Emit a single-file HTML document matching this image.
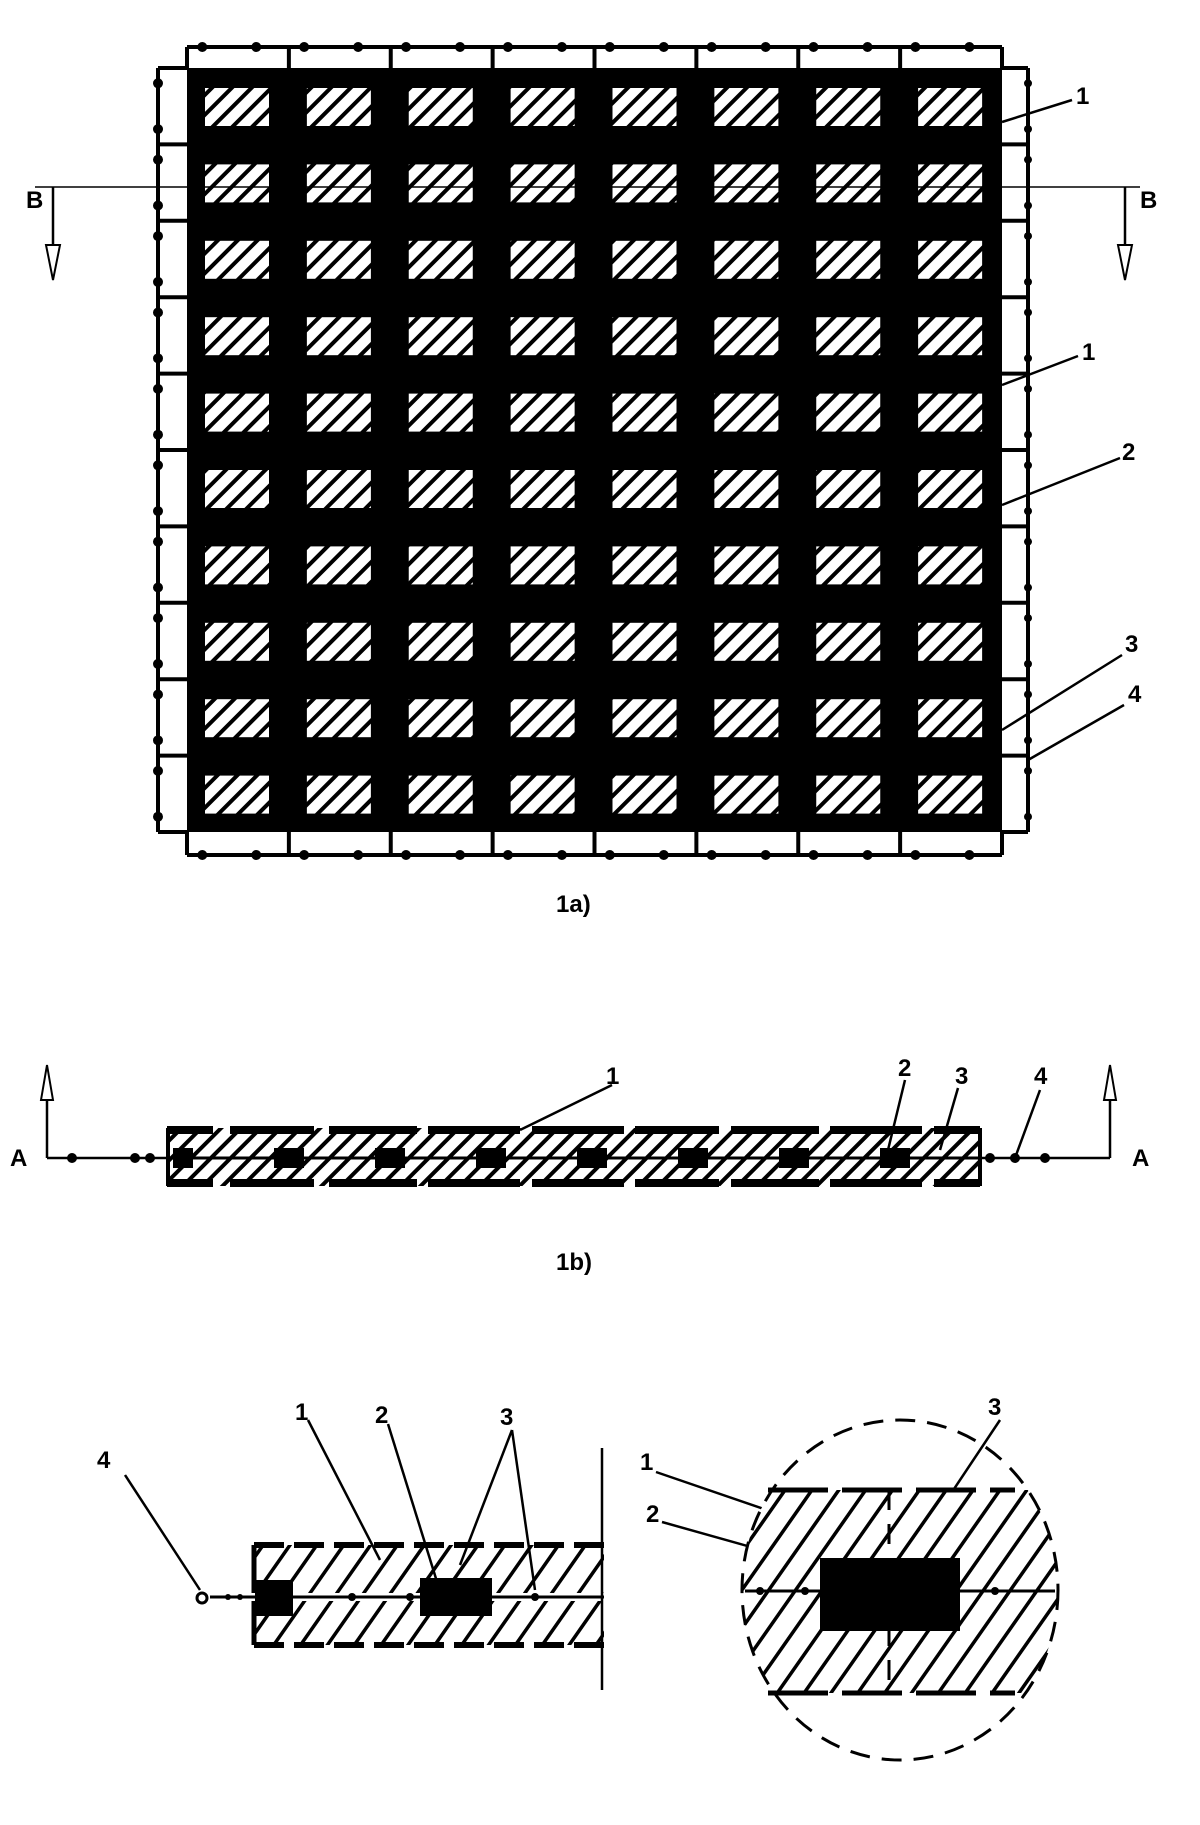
<!DOCTYPE html>
<html><head><meta charset="utf-8"><style>html,body{margin:0;padding:0;background:#fff;}svg{display:block}text{font-family:"Liberation Sans",sans-serif;font-weight:bold;fill:#000}</style></head>
<body>
<svg id="s" width="1200" height="1825" viewBox="0 0 1200 1825" xmlns="http://www.w3.org/2000/svg">
<defs>
<pattern id="h" width="14" height="14" patternUnits="userSpaceOnUse" patternTransform="rotate(45)">
<rect width="14" height="14" fill="#fff"/><rect x="0" y="0" width="4" height="14" fill="#000"/></pattern>
<pattern id="h2" width="22" height="22" patternUnits="userSpaceOnUse" patternTransform="rotate(35)">
<rect width="22" height="22" fill="#fff"/><rect x="0" y="0" width="3.5" height="22" fill="#000"/></pattern>
<clipPath id="cc"><ellipse cx="900" cy="1590" rx="158" ry="170"/></clipPath>
</defs>
<g id="g"></g>
<g stroke="#000" stroke-width="2.5" fill="none">
<line x1="1002" y1="122" x2="1072" y2="100"/>
<line x1="1002" y1="385" x2="1078" y2="356"/>
<line x1="1002" y1="505" x2="1120" y2="458"/>
<line x1="1002" y1="730" x2="1122" y2="655"/>
<line x1="1028" y1="760" x2="1124" y2="705"/>
<line x1="35" y1="187" x2="1140" y2="187" stroke-width="1.5"/>
<line x1="53" y1="187" x2="53" y2="275"/><line x1="1125" y1="187" x2="1125" y2="275"/>
</g>
<path d="M46 245 L53 280 L60 245 Z M1118 245 L1125 280 L1132 245 Z" fill="#fff" stroke="#000" stroke-width="2"/>
<text x="1076" y="104" font-size="24">1</text>
<text x="1082" y="360" font-size="24">1</text>
<text x="1122" y="460" font-size="24">2</text>
<text x="1125" y="652" font-size="24">3</text>
<text x="1128" y="702" font-size="24">4</text>
<text x="26" y="208" font-size="24">B</text>
<text x="1140" y="208" font-size="24">B</text>
<text x="556" y="912" font-size="24">1a)</text>
<g stroke="#000" stroke-width="2.5" fill="none">
<line x1="47" y1="1158" x2="1110" y2="1158"/>
<line x1="47" y1="1070" x2="47" y2="1158"/><line x1="1110" y1="1070" x2="1110" y2="1158"/>
<line x1="520" y1="1130" x2="612" y2="1085"/>
<line x1="888" y1="1150" x2="905" y2="1080"/>
<line x1="940" y1="1150" x2="958" y2="1088"/>
<line x1="1015" y1="1158" x2="1040" y2="1090"/>
</g>
<path d="M41 1100 L47 1065 L53 1100 Z M1104 1100 L1110 1065 L1116 1100 Z" fill="#fff" stroke="#000" stroke-width="2"/>
<text x="10" y="1166" font-size="24">A</text>
<text x="1132" y="1166" font-size="24">A</text>
<text x="606" y="1084" font-size="24">1</text>
<text x="898" y="1076" font-size="24">2</text>
<text x="955" y="1084" font-size="24">3</text>
<text x="1034" y="1084" font-size="24">4</text>
<text x="556" y="1270" font-size="24">1b)</text>
<rect x="254" y="1545" width="350" height="100" fill="url(#h2)"/>
<g stroke="#000" stroke-width="6" fill="none" stroke-dasharray="30,10">
<line x1="254" y1="1545" x2="604" y2="1545"/><line x1="254" y1="1645" x2="604" y2="1645"/>
</g>
<line x1="254" y1="1545" x2="254" y2="1645" stroke="#000" stroke-width="5"/>
<line x1="210" y1="1597" x2="604" y2="1597" stroke="#fff" stroke-width="8"/>
<line x1="210" y1="1597" x2="604" y2="1597" stroke="#000" stroke-width="3"/>
<rect x="255" y="1580" width="38" height="36" fill="#000"/>
<rect x="420" y="1578" width="72" height="38" fill="#000"/>
<g fill="#000"><circle cx="352" cy="1597" r="4"/><circle cx="410" cy="1597" r="4"/><circle cx="535" cy="1597" r="4"/><circle cx="228" cy="1597" r="3"/><circle cx="240" cy="1597" r="3"/></g>
<circle cx="202" cy="1598" r="5" fill="#fff" stroke="#000" stroke-width="3"/>
<line x1="602" y1="1448" x2="602" y2="1690" stroke="#000" stroke-width="2.5"/>
<g stroke="#000" stroke-width="2.5" fill="none">
<line x1="125" y1="1475" x2="200" y2="1590"/>
<line x1="308" y1="1420" x2="380" y2="1560"/>
<line x1="388" y1="1424" x2="438" y2="1585"/>
<line x1="512" y1="1430" x2="460" y2="1565"/><line x1="512" y1="1430" x2="535" y2="1590"/>
<line x1="656" y1="1472" x2="840" y2="1535"/>
<line x1="662" y1="1522" x2="815" y2="1565"/>
<line x1="1000" y1="1420" x2="900" y2="1570"/>
</g>
<text x="97" y="1468" font-size="24">4</text>
<text x="295" y="1420" font-size="24">1</text>
<text x="375" y="1423" font-size="24">2</text>
<text x="500" y="1425" font-size="24">3</text>
<text x="640" y="1470" font-size="24">1</text>
<text x="646" y="1522" font-size="24">2</text>
<text x="988" y="1415" font-size="24">3</text>
<rect x="735" y="1490" width="330" height="203" fill="url(#h2)" clip-path="url(#cc)"/>
<ellipse cx="900" cy="1590" rx="158" ry="170" fill="none" stroke="#000" stroke-width="3" stroke-dasharray="20,12"/>
<g stroke="#000" stroke-width="5" stroke-dasharray="60,14">
<line x1="768" y1="1490" x2="1015" y2="1490"/><line x1="768" y1="1693" x2="1015" y2="1693"/></g>
<line x1="889" y1="1490" x2="889" y2="1693" stroke="#000" stroke-width="3" stroke-dasharray="20,14"/>
<line x1="745" y1="1591" x2="1055" y2="1591" stroke="#000" stroke-width="3"/>
<rect x="820" y="1558" width="140" height="73" fill="#000"/>
<g fill="#000"><circle cx="760" cy="1591" r="4"/><circle cx="805" cy="1591" r="4"/><circle cx="995" cy="1591" r="4"/></g>
</svg>
<script>
var g=document.getElementById('g'),o='';
var X0=187,X1=1002,Y0=68,Y1=832,cw=(X1-X0)/8,rh=(Y1-Y0)/10;
o+='<rect x="'+X0+'" y="'+Y0+'" width="'+(X1-X0)+'" height="'+(Y1-Y0)+'" fill="#000"/>';
for(var r=0;r<10;r++)for(var c=0;c<8;c++){o+='<rect x="'+(X0+18+c*cw)+'" y="'+(Y0+20+r*rh)+'" width="64" height="38" fill="url(#h)"/>';}
o+='<g stroke="#000" stroke-width="4">';
o+='<line x1="'+X0+'" y1="47" x2="'+X1+'" y2="47"/><line x1="'+X0+'" y1="855" x2="'+X1+'" y2="855"/>';
o+='<line x1="158" y1="'+Y0+'" x2="158" y2="'+Y1+'"/><line x1="1028" y1="'+Y0+'" x2="1028" y2="'+Y1+'"/>';
for(var c=0;c<=8;c++){var x=X0+c*cw;o+='<line x1="'+x+'" y1="47" x2="'+x+'" y2="68"/><line x1="'+x+'" y1="832" x2="'+x+'" y2="855"/>';}
for(var r=0;r<=10;r++){var y=Y0+r*rh;o+='<line x1="158" y1="'+y+'" x2="'+X0+'" y2="'+y+'"/><line x1="'+X1+'" y1="'+y+'" x2="1028" y2="'+y+'"/>';}
o+='</g>';
for(var c=0;c<8;c++){[0.15,0.68].forEach(function(f){var x=X0+c*cw+f*cw;o+='<circle cx="'+x+'" cy="47" r="5"/><circle cx="'+x+'" cy="855" r="5"/>';});}
for(var r=0;r<10;r++){[0.2,0.8].forEach(function(f){var y=Y0+r*rh+f*rh;o+='<circle cx="158" cy="'+y+'" r="5"/><circle cx="1028" cy="'+y+'" r="4"/>';});}
var segs=[[167,213],[230,314],[329,417],[428,520],[532,624],[635,719],[731,819],[830,922],[934,980]];
o+='<rect x="168" y="1128" width="812" height="58" fill="url(#h)"/>';
segs.forEach(function(s){o+='<rect x="'+s[0]+'" y="1126" width="'+(s[1]-s[0])+'" height="8" fill="#000"/><rect x="'+s[0]+'" y="1179" width="'+(s[1]-s[0])+'" height="8" fill="#000"/>';});
o+='<line x1="168" y1="1128" x2="168" y2="1186" stroke="#000" stroke-width="4"/><line x1="980" y1="1128" x2="980" y2="1186" stroke="#000" stroke-width="4"/>';
o+='<line x1="168" y1="1158" x2="980" y2="1158" stroke="#000" stroke-width="3"/>';
for(var i=0;i<8;i++){var cx=185+i*101;o+='<rect x="'+(cx-12)+'" y="1148" width="'+(i==0?20:30)+'" height="20" fill="#000"/>';}
[72,135,150,990,1015,1045].forEach(function(x){o+='<circle cx="'+x+'" cy="1158" r="5"/>';});
g.innerHTML=o;
</script>
</body></html>
